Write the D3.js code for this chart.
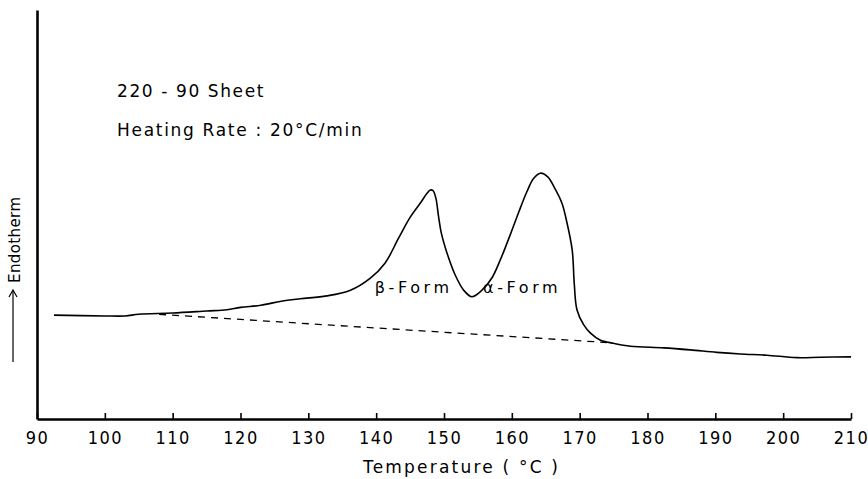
<!DOCTYPE html>
<html>
<head>
<meta charset="utf-8">
<script src="https://cdn.jsdelivr.net/npm/d3@7"></script>
<style>
  html, body { margin: 0; padding: 0; background: #fff; }
  svg { display: block; }
  text { font-family: "DejaVu Sans", sans-serif; fill: #000; }
</style>
</head>
<body>
<svg id="chart" width="868" height="479"></svg>
<script>
// ---- data ----
const temperature = [92.5, 100, 103, 105, 110, 115, 118, 120, 123, 126, 128.8, 132.7, 136.2, 139.1, 141.3, 143.3, 145.0, 146.6, 147.5, 148.0, 148.4, 148.8, 149.2, 149.6, 150.4, 151.6, 152.9, 154.1, 155.6, 157.1, 158.3, 159.8, 161.0, 162.2, 163.2, 164.2, 165.3, 166.2, 167.4, 168.1, 168.9, 169.2, 169.6, 170.6, 171.6, 173.0, 175.0, 177.5, 182.4, 186.3, 190.2, 193.7, 197.6, 202.0, 205.5, 210.0];
const endotherm   = [25.4, 25.2, 25.2, 25.6, 25.9, 26.4, 26.7, 27.3, 27.8, 28.8, 29.4, 30.1, 31.5, 34.4, 38.1, 44.2, 49.3, 53.0, 55.2, 56.0, 55.8, 54.0, 49.5, 45.5, 40.8, 35.4, 31.5, 29.9, 31.5, 34.6, 38.9, 45.2, 50.5, 55.5, 58.8, 60.1, 59.2, 56.8, 52.7, 48.2, 41.3, 33.2, 26.7, 23.0, 21.0, 19.3, 18.5, 17.8, 17.4, 16.9, 16.3, 15.9, 15.6, 15.0, 15.1, 15.2];
const baselineTemp = [108, 174];
const baselineVal  = [25.6, 18.7];
const xTicks = [90, 100, 110, 120, 130, 140, 150, 160, 170, 180, 190, 200, 210];
const labels = [
  { text: "β-Form", t: 139.8, v: 30.8 },
  { text: "α-Form", t: 155.75, v: 30.8 }
];
const title1 = "220 - 90 Sheet";
const title2 = "Heating Rate : 20°C/min";
const xTitle = "Temperature ( °C )";
const yTitle = "Endotherm";

// ---- layout ----
const svg = d3.select("#chart");
const x = d3.scaleLinear().domain([90, 210]).range([37, 851]);
const y = d3.scaleLinear().domain([0, 100]).range([419, 10]);

// axes
const xAxis = d3.axisBottom(x).tickValues(xTicks).tickSizeInner(-6).tickSizeOuter(0).tickPadding(0);
const gx = svg.append("g").attr("transform", `translate(0,${y(0)})`).call(xAxis);
gx.select(".domain").attr("stroke", "#000").attr("stroke-width", 2.6);
gx.selectAll(".tick line").attr("stroke", "#000").attr("stroke-width", 1.6);
gx.selectAll(".tick text").text(d => d)
  .attr("y", 25).attr("dy", 0)
  .style("font-family", "'DejaVu Sans Condensed', 'DejaVu Sans', sans-serif")
  .style("font-size", "18px").attr("letter-spacing", 1.5).attr("fill", "#000");

const gy = svg.append("g").attr("transform", `translate(${x(90)},0)`)
  .call(d3.axisLeft(y).tickValues([]).tickSizeOuter(0));
gy.select(".domain").attr("stroke", "#000").attr("stroke-width", 2.6);

// baseline (dashed)
const pts = temperature.map((t, i) => [t, endotherm[i]]);
const line = d3.line().x(d => x(d[0])).y(d => y(d[1])).curve(d3.curveCatmullRom.alpha(0.5));
svg.append("path")
  .datum(baselineTemp.map((t, i) => [t, baselineVal[i]]))
  .attr("d", d3.line().x(d => x(d[0])).y(d => y(d[1])))
  .attr("fill", "none").attr("stroke", "#000").attr("stroke-width", 1.3)
  .attr("stroke-dasharray", "7,6");

// curve
svg.append("path").datum(pts).attr("d", line)
  .attr("fill", "none").attr("stroke", "#000").attr("stroke-width", 1.6)
  .attr("stroke-linejoin", "round");

// peak labels
svg.selectAll(".plabel").data(labels).enter().append("text")
  .attr("x", d => x(d.t)).attr("y", d => y(d.v))
  .style("font-size", "16px").attr("letter-spacing", 3.6)
  .text(d => d.text);

// header texts
svg.append("text").attr("x", 117).attr("y", 97).style("font-size", "17px")
  .attr("letter-spacing", 1.6).text(title1);
svg.append("text").attr("x", 117).attr("y", 136).style("font-size", "17px")
  .attr("letter-spacing", 1.7).text(title2);

// x title
svg.append("text").attr("x", 363).attr("y", 473)
  .style("font-size", "17px").attr("letter-spacing", 2.2).text(xTitle);

// y title with arrow
const yl = svg.append("g").attr("transform", "translate(20,283) rotate(-90)");
yl.append("text").attr("x", 0).attr("y", 0).style("font-size", "15px")
  .attr("letter-spacing", 0.4).text(yTitle);
svg.append("line").attr("x1", 13).attr("x2", 13).attr("y1", 362).attr("y2", 291)
  .attr("stroke", "#000").attr("stroke-width", 1.2);
svg.append("path").attr("d", "M9,297 L13,290 L17,297")
  .attr("fill", "none").attr("stroke", "#000").attr("stroke-width", 1.2);
</script>
</body>
</html>
